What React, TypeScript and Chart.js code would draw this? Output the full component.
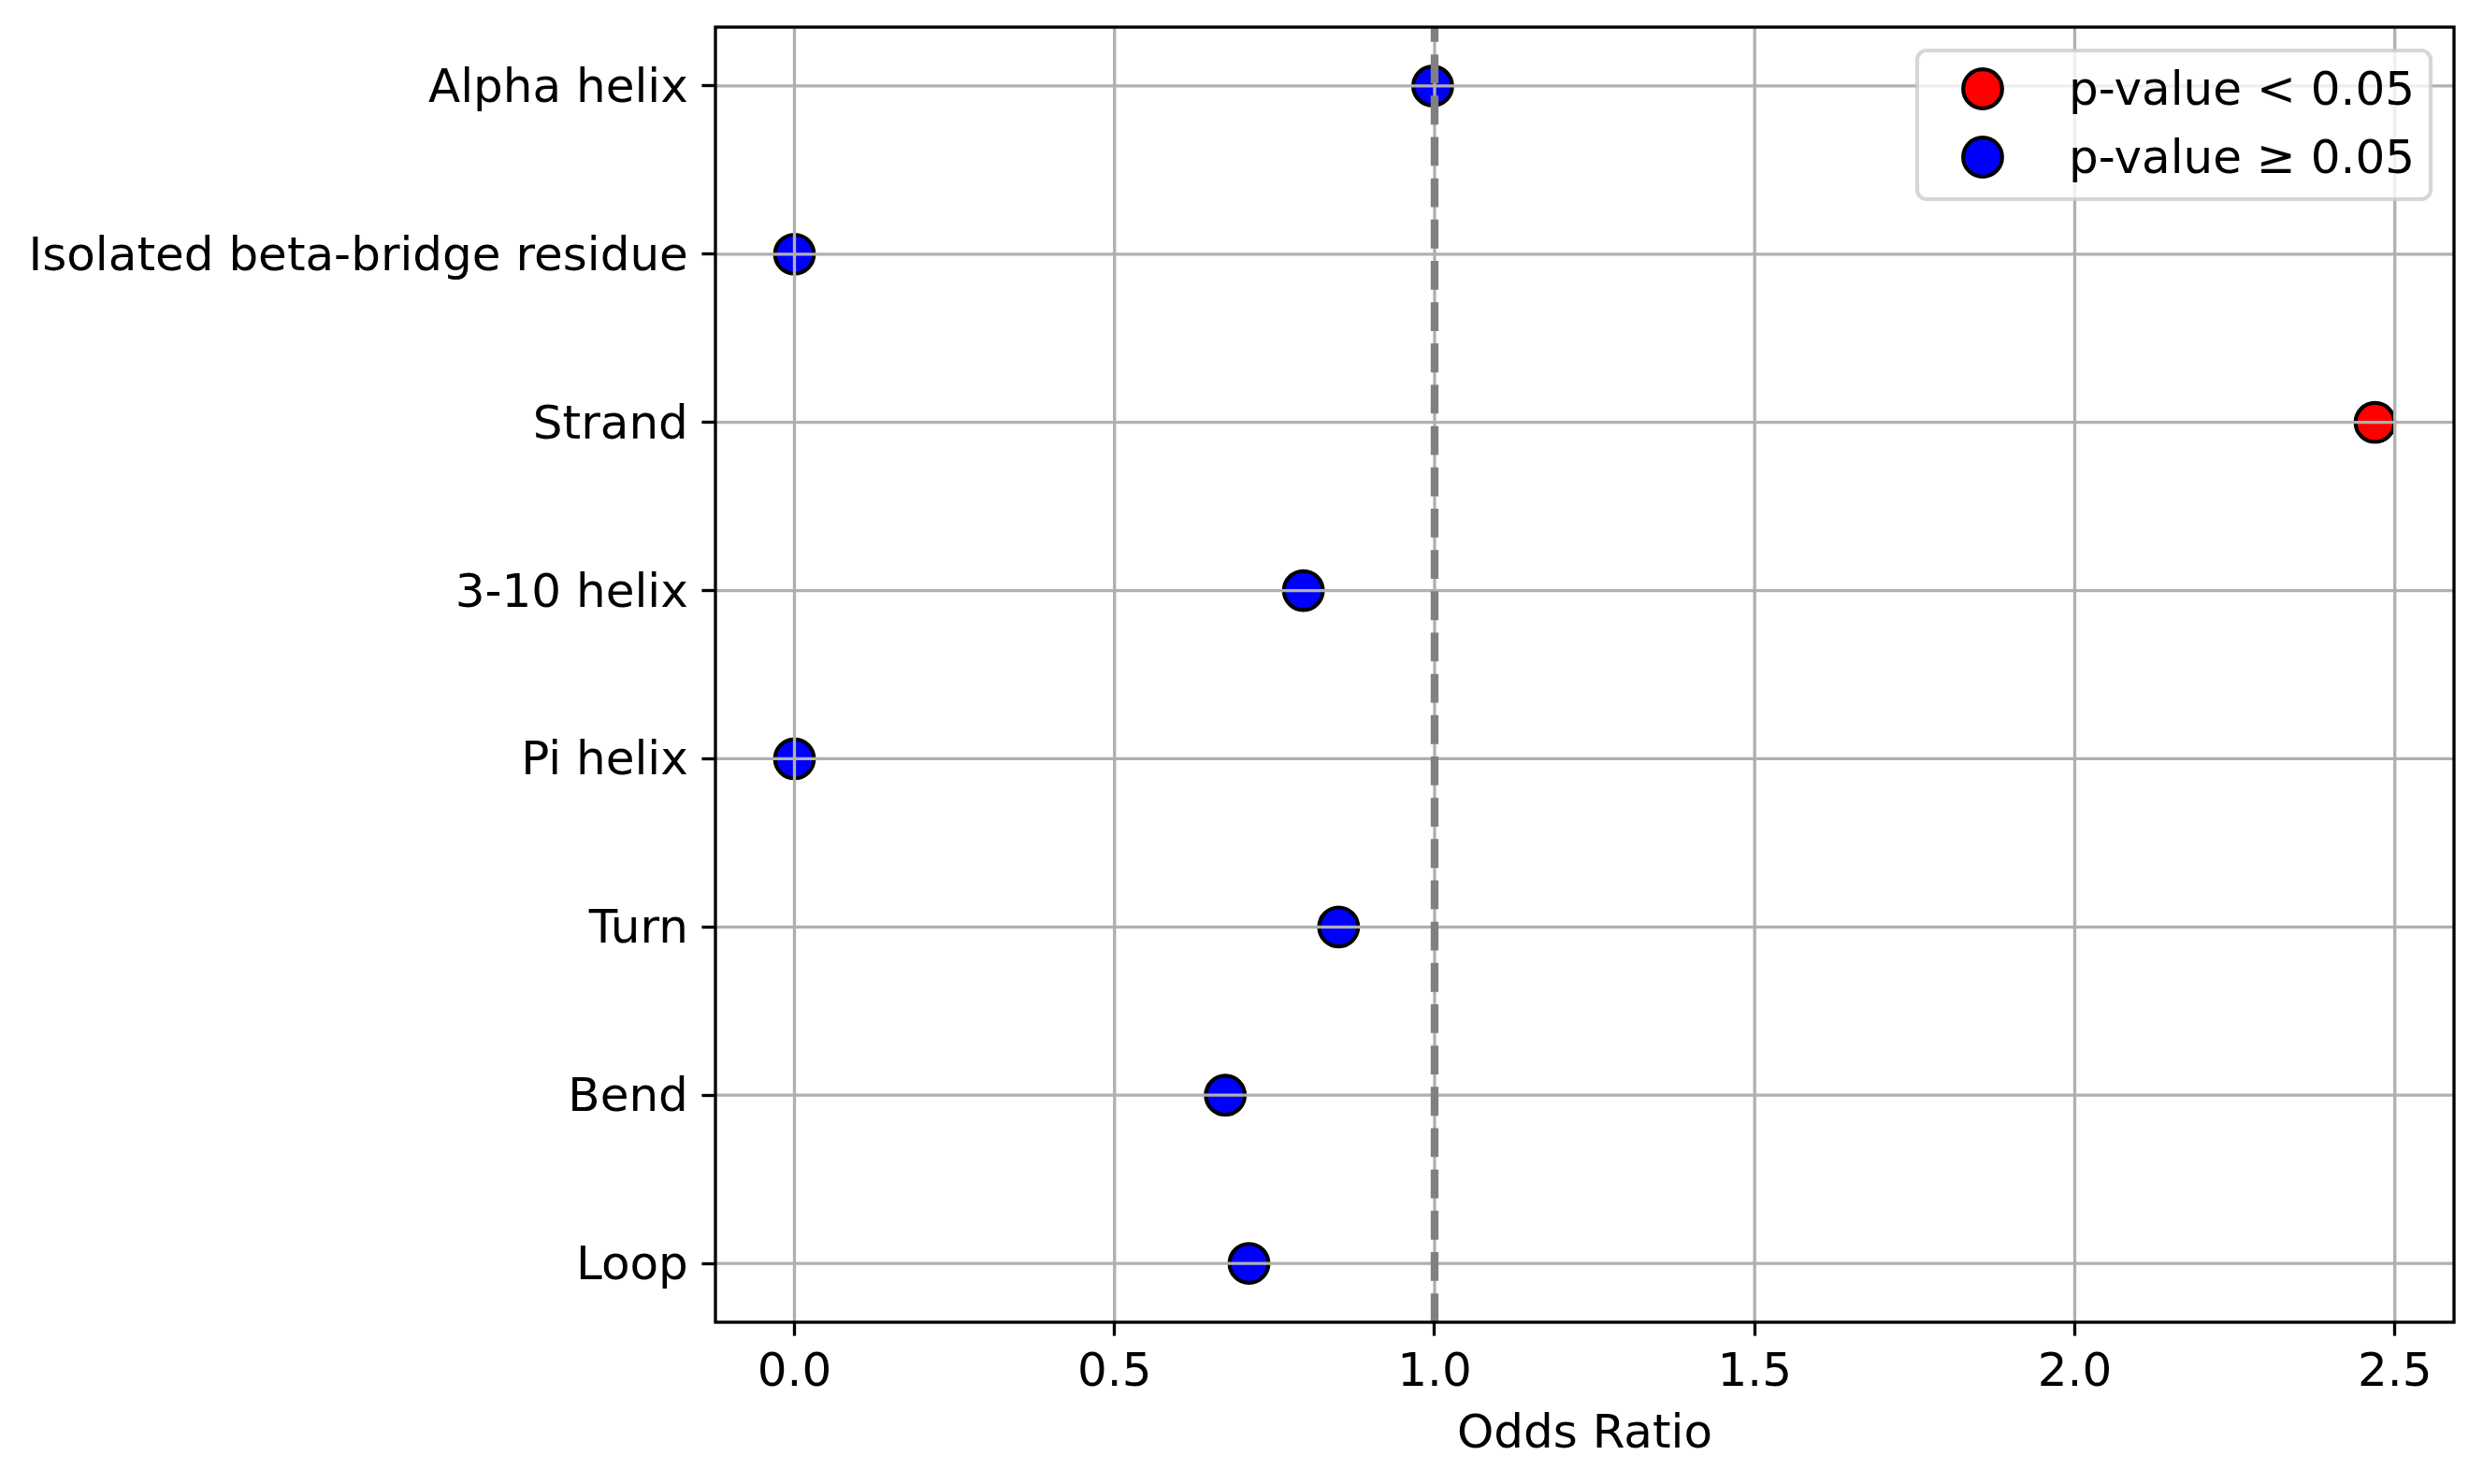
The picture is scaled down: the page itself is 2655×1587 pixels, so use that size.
import React, { useEffect, useRef } from "react";
import { Chart, registerables } from "chart.js";

Chart.register(...registerables);

const categories = [
  "Alpha helix",
  "Isolated beta-bridge residue",
  "Strand",
  "3-10 helix",
  "Pi helix",
  "Turn",
  "Bend",
  "Loop",
];
const oddsRatios = [0.997, 0.0, 2.469, 0.795, 0.0, 0.85, 0.673, 0.71];
const significant = [false, false, true, false, false, false, false, false];
const xTickValues = [0, 0.5, 1.0, 1.5, 2.0, 2.5];
const referenceOR = 1.0;
const legendLabels = ["p-value < 0.05", "p-value \u2265 0.05"];

const PT = 300 / 72; // px per point at 300 dpi
const FONT = "DejaVu Sans";
const FS = 50;

export default function App() {
  const ref = useRef<HTMLCanvasElement | null>(null);

  useEffect(() => {
    if (!ref.current) return;
    const n = categories.length;
    const maxX = Math.max(...oddsRatios);
    const minX = Math.min(...oddsRatios);
    const mx = (maxX - minX) * 0.05;
    const my = (n - 1) * 0.05;

    const sigPts: { x: number; y: number }[] = [];
    const nonPts: { x: number; y: number }[] = [];
    oddsRatios.forEach((v, i) => {
      (significant[i] ? sigPts : nonPts).push({ x: v, y: i });
    });

    const overlay = {
      id: "overlay",
      afterDatasetsDraw(chart: any) {
        const { ctx, chartArea: a, scales } = chart;
        const xs = scales.x;
        const ys = scales.y;
        ctx.save();
        // grid (drawn above the markers, like matplotlib)
        ctx.strokeStyle = "#b0b0b0";
        ctx.lineWidth = 0.8 * PT;
        ctx.beginPath();
        xTickValues.forEach((v) => {
          const px = xs.getPixelForValue(v);
          ctx.moveTo(px, a.top);
          ctx.lineTo(px, a.bottom);
        });
        categories.forEach((_, i) => {
          const py = ys.getPixelForValue(i);
          ctx.moveTo(a.left, py);
          ctx.lineTo(a.right, py);
        });
        ctx.stroke();
        // reference line
        const rx = xs.getPixelForValue(referenceOR);
        ctx.strokeStyle = "#808080";
        ctx.lineWidth = 2 * PT;
        ctx.setLineDash([3.7 * 2 * PT, 1.6 * 2 * PT]);
        ctx.beginPath();
        ctx.moveTo(rx, a.bottom);
        ctx.lineTo(rx, a.top);
        ctx.stroke();
        ctx.setLineDash([]);
        // spines
        ctx.strokeStyle = "#000";
        ctx.lineWidth = 0.8 * PT;
        ctx.strokeRect(a.left, a.top, a.right - a.left, a.bottom - a.top);
        ctx.restore();
      },
      afterDraw(chart: any) {
        const { ctx, chartArea: a } = chart;
        const pad = 0.5 * FS;
        const w = 549;
        const h = 159;
        const right = a.right - pad;
        const top = a.top + pad;
        const left = right - w;
        ctx.save();
        ctx.beginPath();
        ctx.roundRect(left, top, w, h, 10);
        ctx.fillStyle = "rgba(255,255,255,0.8)";
        ctx.fill();
        ctx.strokeStyle = "rgba(204,204,204,0.8)";
        ctx.lineWidth = 1 * PT;
        ctx.stroke();
        chart.data.datasets.forEach((ds: any, i: number) => {
          const cy = top + 41 + i * 73;
          ctx.beginPath();
          ctx.arc(left + 70, cy, 10 * PT / 2, 0, Math.PI * 2);
          ctx.fillStyle = ds.backgroundColor;
          ctx.fill();
          ctx.strokeStyle = "#000";
          ctx.lineWidth = 1 * PT;
          ctx.stroke();
          ctx.fillStyle = "#000";
          ctx.font = `${FS}px "${FONT}"`;
          ctx.textBaseline = "alphabetic";
          ctx.textAlign = "left";
          ctx.fillText(ds.label, left + 162, cy + 17);
        });
        ctx.restore();
      },
    };

    const chart = new Chart(ref.current, {
      type: "scatter",
      data: {
        datasets: [
          {
            label: legendLabels[0],
            data: sigPts,
            backgroundColor: "#ff0000",
            borderColor: "#000000",
            borderWidth: 1 * PT,
            pointRadius: (10 * PT) / 2,
            pointHoverRadius: (10 * PT) / 2,
          },
          {
            label: legendLabels[1],
            data: nonPts,
            backgroundColor: "#0000ff",
            borderColor: "#000000",
            borderWidth: 1 * PT,
            pointRadius: (10 * PT) / 2,
            pointHoverRadius: (10 * PT) / 2,
          },
        ],
      },
      options: {
        animation: false,
        responsive: false,
        devicePixelRatio: 1,
        layout: { padding: { top: 29, right: 31, left: 0, bottom: 0 } },
        plugins: {
          legend: { display: false },
          tooltip: { enabled: false },
        },
        scales: {
          x: {
            type: "linear",
            min: minX - mx,
            max: maxX + mx,
            afterBuildTicks: (s: any) => {
              s.ticks = xTickValues.map((v) => ({ value: v }));
            },
            afterFit: (s: any) => {
              s.height = 173;
              s.paddingLeft = 0;
              s.paddingRight = 0;
            },
            ticks: {
              autoSkip: false,
              maxRotation: 0,
              color: "#000",
              font: { family: FONT, size: FS },
              padding: 10,
              callback: (v: any) => Number(v).toFixed(1),
            },
            grid: {
              drawOnChartArea: false,
              drawTicks: true,
              tickLength: 3.5 * PT,
              tickColor: "#000",
              tickWidth: 0.8 * PT,
              color: "rgba(0,0,0,0)",
            },
            border: { display: false },
            title: {
              display: true,
              text: "Odds Ratio",
              color: "#000",
              font: { family: FONT, size: FS },
              padding: { top: 0, bottom: 22 },
            },
          },
          y: {
            type: "linear",
            reverse: true,
            min: -my,
            max: n - 1 + my,
            afterBuildTicks: (s: any) => {
              s.ticks = categories.map((_, i) => ({ value: i }));
            },
            afterFit: (s: any) => {
              s.width = 765;
              s.paddingTop = 0;
              s.paddingBottom = 0;
            },
            ticks: {
              autoSkip: false,
              color: "#000",
              font: { family: FONT, size: FS },
              padding: 3.5 * PT,
              labelOffset: 4,
              callback: (v: any) => categories[Math.round(Number(v))] ?? "",
            },
            grid: {
              drawOnChartArea: false,
              drawTicks: true,
              tickLength: 3.5 * PT,
              tickColor: "#000",
              tickWidth: 0.8 * PT,
              color: "rgba(0,0,0,0)",
            },
            border: { display: false },
          },
        },
      },
      plugins: [overlay],
    });
    return () => chart.destroy();
  }, []);

  return (
    <div style={{ position: "absolute", left: 0, top: 0, width: 2655, height: 1587, background: "#fff" }}>
      <canvas ref={ref} width={2655} height={1587} style={{ width: 2655, height: 1587 }} />
    </div>
  );
}
